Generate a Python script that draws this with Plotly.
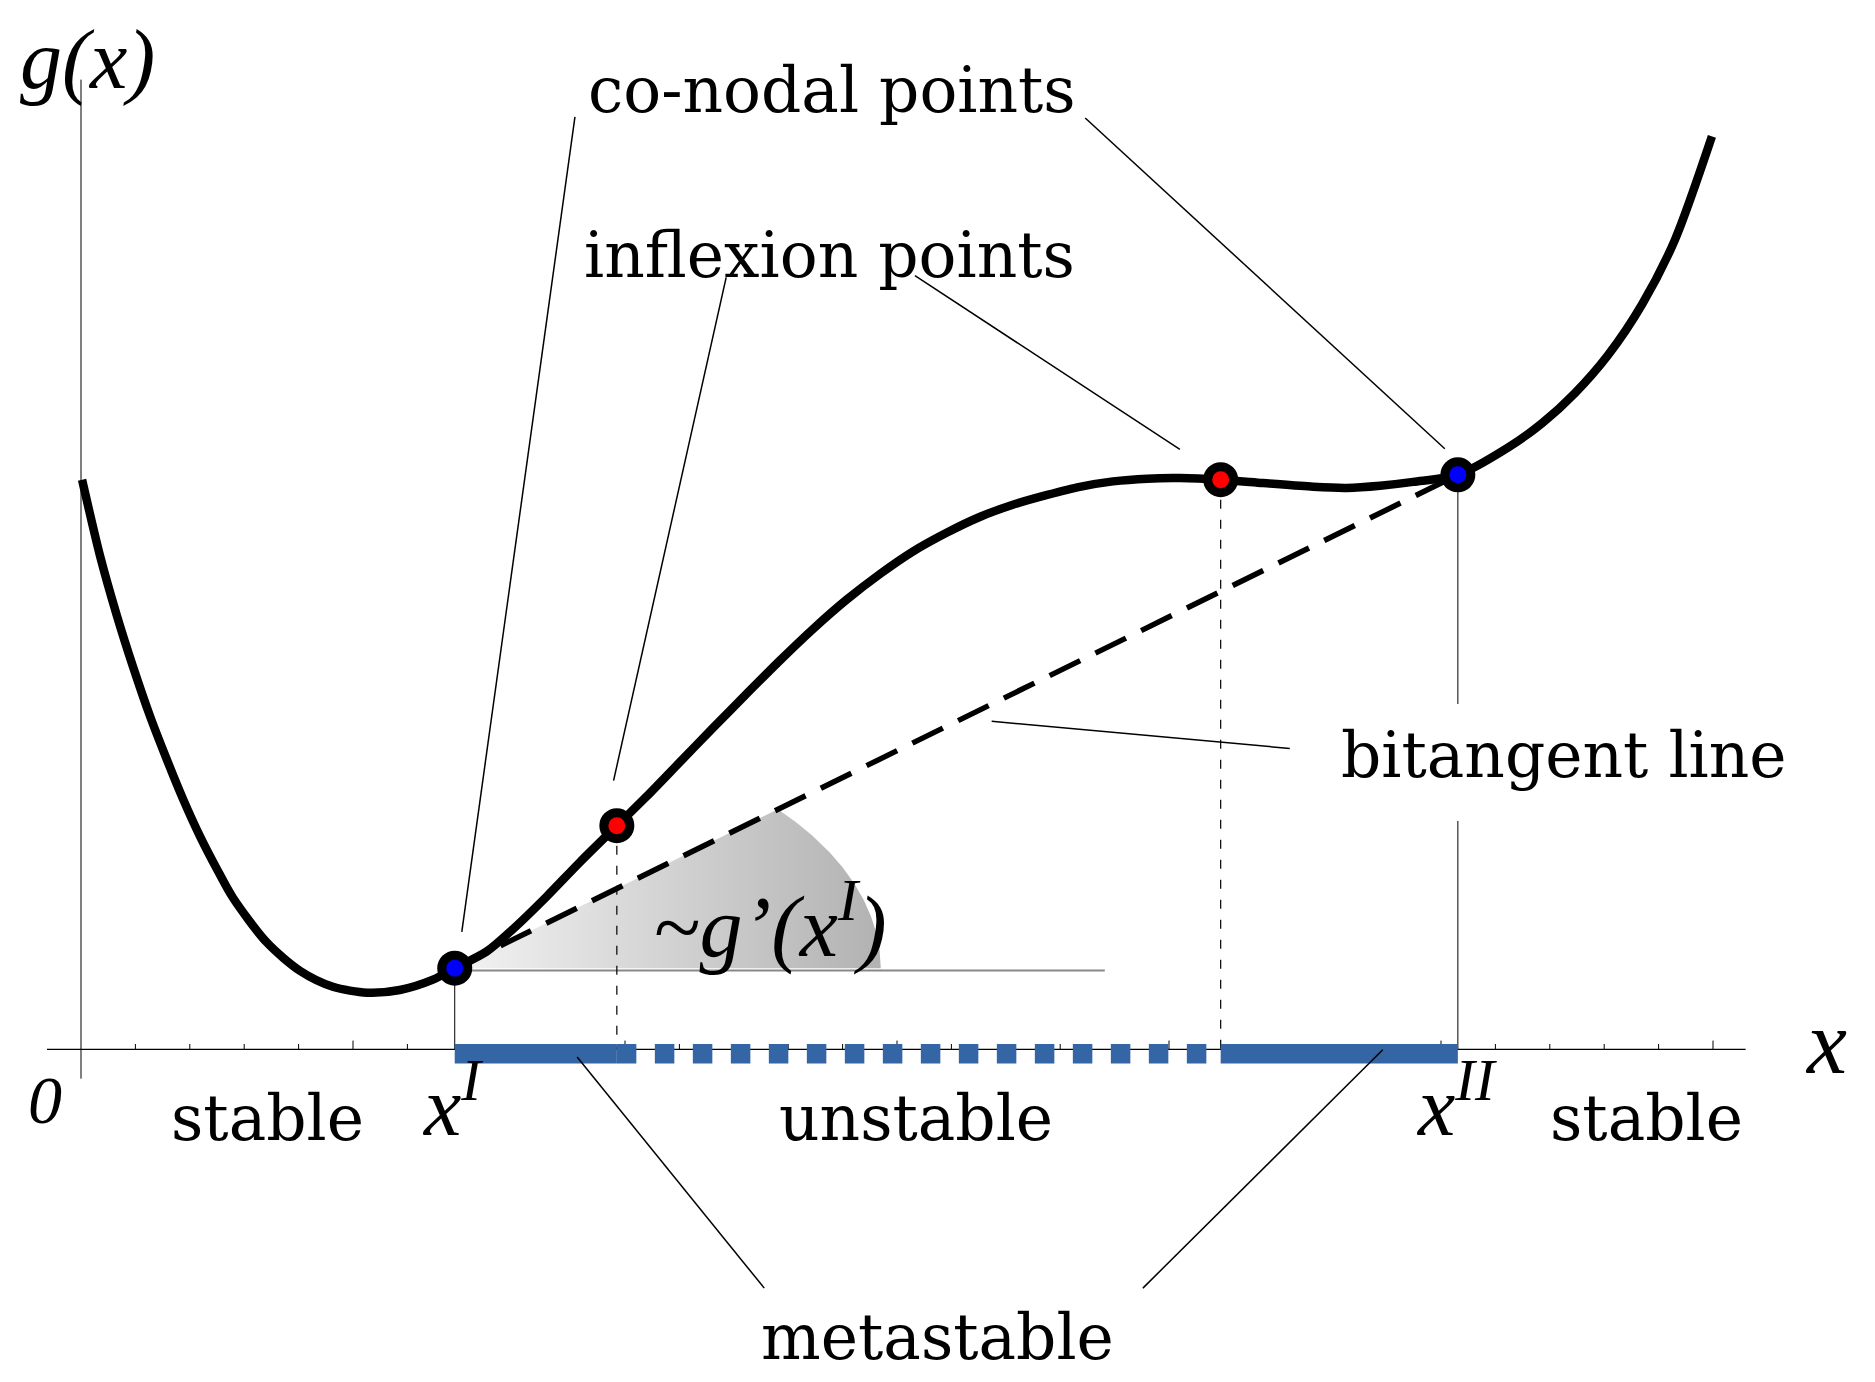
import numpy as np
import plotly.graph_objects as go

# ---------------- data ----------------
curve_x = [0.002, 0.035, 0.066, 0.096, 0.127, 0.158, 0.188, 0.219, 0.250, 0.279,
           0.342, 0.403, 0.463, 0.526, 0.586, 0.647, 0.687, 0.746, 0.794, 0.857,
           0.917, 0.985, 1.040, 1.101, 1.162, 1.224, 1.285, 1.346, 1.408, 1.469,
           1.529, 1.592, 1.653, 1.713, 1.776, 1.836, 1.897, 1.960, 2.020, 2.095,
           2.173, 2.265, 2.327, 2.388, 2.449, 2.531, 2.623, 2.686, 2.746, 2.807,
           2.870, 2.930, 2.998]
curve_y = [1.047, 0.907, 0.797, 0.702, 0.612, 0.532, 0.459, 0.391, 0.331, 0.279,
           0.196, 0.144, 0.115, 0.104, 0.109, 0.128, 0.149, 0.180, 0.221, 0.282,
           0.344, 0.411, 0.465, 0.528, 0.591, 0.654, 0.715, 0.773, 0.827, 0.874,
           0.915, 0.950, 0.979, 1.001, 1.019, 1.034, 1.044, 1.049, 1.050, 1.047,
           1.041, 1.034, 1.032, 1.036, 1.043, 1.056, 1.106, 1.151, 1.206, 1.276,
           1.370, 1.488, 1.678]

conodal_x = [0.687, 2.531]
conodal_y = [0.149, 1.056]
inflexion_x = [0.985, 2.095]
inflexion_y = [0.411, 1.047]

x_ticks = [round(0.1 * k, 1) for k in range(1, 31)]
major_every = 5

# angle-marker (wedge) radii and the reference horizontal line end
wedge_a, wedge_b = 0.783, 0.4485
ref_line_end = 1.882

# gap in the x^II guide line (behind "bitangent line" label)
gap_lo, gap_hi = 0.4197, 0.6347

# leader lines: (x0, y0, x1, y1)
leaders = [
    (0.908, 1.714, 0.700, 0.216),    # co-nodal -> x^I
    (1.846, 1.712, 2.507, 1.104),    # co-nodal -> x^II
    (1.186, 1.419, 0.979, 0.494),    # inflexion -> left
    (1.533, 1.422, 2.020, 1.103),    # inflexion -> right
    (1.674, 0.603, 2.222, 0.553),    # bitangent line
    (0.912, -0.014, 1.256, -0.439),  # metastable left
    (2.393, -0.001, 1.952, -0.439),  # metastable right
]

bar_y = -0.008
BLUE_BAR = "#3465a4"

# word labels: text, x, y (middle of text box), x-anchor
word_labels = [
    ("co-nodal points", 0.930, 1.763, "left"),
    ("inflexion points", 0.923, 1.459, "left"),
    ("bitangent line", 2.314, 0.541, "left"),
    ("stable", 0.342, -0.128, "center"),
    ("unstable", 1.535, -0.128, "center"),
    ("stable", 2.878, -0.128, "center"),
    ("metastable", 1.574, -0.530, "center"),
]
# math labels: text, x, y (bottom of text box), size, x-anchor
math_labels = [
    ("g(x)", -0.114, 1.730, 84, "left"),
    ("x", 3.207, -0.081, 90, "center"),
    ("x<sup>I</sup>", 0.682, -0.193, 84, "center"),
    ("x<sup>II</sup>", 2.528, -0.193, 84, "center"),
    ("0", -0.067, -0.164, 68, "center"),
    ("~g’(x<sup>I</sup>)", 1.050, 0.134, 86, "left"),
]

# ---------------- figure ----------------
W, H = 1875, 1382
fig = go.Figure()

# wedge (angle marker)
slope = (conodal_y[1] - conodal_y[0]) / (conodal_x[1] - conodal_x[0])
t_end = np.arctan(slope * wedge_a / wedge_b)
t = np.linspace(0, t_end, 80)
wx = [conodal_x[0]] + list(conodal_x[0] + wedge_a * np.cos(t)) + [conodal_x[0]]
wy = [conodal_y[0]] + list(conodal_y[0] + wedge_b * np.sin(t)) + [conodal_y[0]]
fig.add_trace(go.Scatter(
    x=wx, y=wy, mode="lines", fill="toself", line=dict(width=0, color="rgba(0,0,0,0)"),
    fillgradient=dict(type="horizontal", colorscale=[[0, "#f3f3f3"], [1, "#b2b2b2"]]),
    hoverinfo="skip"))

# horizontal reference line
fig.add_trace(go.Scatter(x=[conodal_x[0], ref_line_end], y=[conodal_y[0] - 0.004] * 2,
                         mode="lines", line=dict(color="#888888", width=2), hoverinfo="skip"))

# axes (drawn as lines)
fig.add_trace(go.Scatter(x=[-0.0625, 3.06], y=[0, 0], mode="lines",
                         line=dict(color="black", width=1.3), hoverinfo="skip"))
fig.add_trace(go.Scatter(x=[0, 0], y=[-0.054, 1.7825], mode="lines",
                         line=dict(color="black", width=1), hoverinfo="skip"))
tx, ty = [], []
for i, v in enumerate(x_ticks, start=1):
    L = 0.016 if i % major_every == 0 else 0.0098
    tx += [v, v, None]
    ty += [0, L, None]
fig.add_trace(go.Scatter(x=tx, y=ty, mode="lines", line=dict(color="black", width=1),
                         hoverinfo="skip"))

# guide lines
fig.add_trace(go.Scatter(x=[conodal_x[0], conodal_x[0]], y=[conodal_y[0], 0], mode="lines",
                         line=dict(color="black", width=1), hoverinfo="skip"))
fig.add_trace(go.Scatter(x=[conodal_x[1], conodal_x[1], None, conodal_x[1], conodal_x[1]],
                         y=[conodal_y[1], gap_hi, None, gap_lo, 0], mode="lines",
                         line=dict(color="black", width=1), hoverinfo="skip"))
for xi, yi in zip(inflexion_x, inflexion_y):
    fig.add_trace(go.Scatter(x=[xi, xi], y=[yi, 0], mode="lines",
                             line=dict(color="black", width=1.2, dash="9px,11px"),
                             hoverinfo="skip"))

# stability bars
fig.add_trace(go.Scatter(x=[conodal_x[0], inflexion_x[0]], y=[bar_y, bar_y], mode="lines",
                         line=dict(color=BLUE_BAR, width=19.5), hoverinfo="skip"))
fig.add_trace(go.Scatter(x=[inflexion_x[0], inflexion_x[1]], y=[bar_y, bar_y], mode="lines",
                         line=dict(color=BLUE_BAR, width=19.5, dash="19.5px,18.5px"),
                         hoverinfo="skip"))
fig.add_trace(go.Scatter(x=[inflexion_x[1], conodal_x[1]], y=[bar_y, bar_y], mode="lines",
                         line=dict(color=BLUE_BAR, width=19.5), hoverinfo="skip"))

# leader lines
lx, ly = [], []
for x0, y0, x1, y1 in leaders:
    lx += [x0, x1, None]
    ly += [y0, y1, None]
fig.add_trace(go.Scatter(x=lx, y=ly, mode="lines", line=dict(color="black", width=1.5),
                         hoverinfo="skip"))

# bitangent line
fig.add_trace(go.Scatter(x=conodal_x, y=conodal_y, mode="lines",
                         line=dict(color="black", width=5.5, dash="34px,17px"),
                         hoverinfo="skip"))

# g(x)
fig.add_trace(go.Scatter(x=curve_x, y=curve_y, mode="lines",
                         line=dict(color="black", width=8.5, shape="spline", smoothing=0.8),
                         hoverinfo="skip"))

# points
fig.add_trace(go.Scatter(x=inflexion_x, y=inflexion_y, mode="markers",
                         marker=dict(size=26, color="#ff0000", line=dict(color="black", width=9)),
                         hoverinfo="skip"))
fig.add_trace(go.Scatter(x=conodal_x, y=conodal_y, mode="markers",
                         marker=dict(size=26, color="#0000ff", line=dict(color="black", width=9)),
                         hoverinfo="skip"))

# word labels
for txt, x, y, xa in word_labels:
    fig.add_annotation(x=x, y=y, xref="x", yref="y", text=txt, showarrow=False,
                       xanchor=xa, yanchor="middle", borderpad=0,
                       font=dict(family="DejaVu Serif", size=63, color="black"))

# math labels
for txt, x, y, size, xa in math_labels:
    fig.add_annotation(x=x, y=y, xref="x", yref="y", text=txt, showarrow=False,
                       xanchor=xa, yanchor="bottom", borderpad=0,
                       font=dict(family="Liberation Serif", size=size, color="black",
                                 style="italic"))

px_per_unit = 544.0
x0_px, y0_px = 81.0, 1049.3
fig.update_layout(
    width=W, height=H, margin=dict(l=0, r=0, t=0, b=0),
    paper_bgcolor="white", plot_bgcolor="white", showlegend=False,
    xaxis=dict(range=[-x0_px / px_per_unit, (W - x0_px) / px_per_unit], visible=False,
               showgrid=False, zeroline=False, fixedrange=True),
    yaxis=dict(range=[(y0_px - H) / px_per_unit, y0_px / px_per_unit], visible=False,
               showgrid=False, zeroline=False, fixedrange=True),
)

fig.write_html("out.html", config={"displayModeBar": False},
               post_script="document.body.style.margin='0px';")
